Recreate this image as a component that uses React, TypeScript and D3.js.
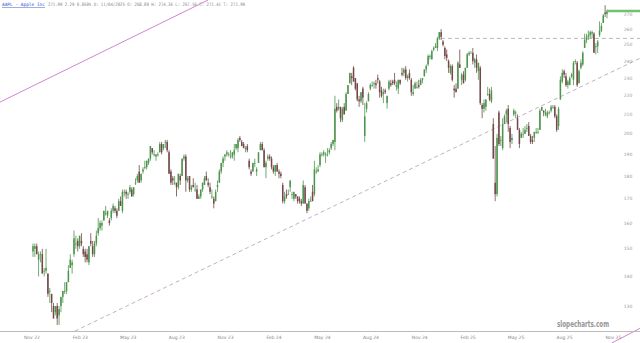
import React from "react";
import * as d3 from "d3";

// ---------- data ----------
const startDate = new Date(2022, 10, 18);
const endDate = new Date(2025, 10, 4);

// half-week OHLC bars
const ohlc: [number, number, number, number][] = [
  [149,152,147,151],[150,152,147,151],[151,152,148,148],[146,149,140,148],[148,149,145,148],
  [148,150,141,141],[142,143,140,142],[142,150,141,143],[141,141,133,134],[135,136,131,135],
  [134,134,128,131],[130,131,126,126],[128,130,127,130],
  [130,131,124,126],[127,130,124,129],[130,133,128,133],[133,135,131,135],[135,138,134,135],
  [135,138,134,138],[138,144,138,142],[143,148,143,146],[144,146,141,145],[148,157,147,154],
  [152,155,150,152],[153,154,149,151],[151,155,150,155],[153,156,151,152],[150,151,147,148],
  [149,150,145,147],[148,150,145,146],[145,151,144,151],[153,156,151,152],[151,153,147,148],
  [148,153,147,152],[152,157,151,155],[156,162,155,158],[158,161,157,160],[159,161,157,160],
  [161,165,161,165],[164,167,163,164],[163,165,162,165],[161,162,159,160],[162,166,161,165],
  [165,168,164,167],[166,167,164,165],[165,166,162,163],[165,170,165,169],[169,171,167,167],
  [165,174,164,173],[173,174,171,173],[173,174,170,172],[172,173,170,172],[173,176,172,175],
  [174,175,171,171],[172,175,171,175],[177,179,176,177],[178,181,177,180],[182,185,177,177],
  [178,181,177,181],[182,184,181,183],[184,187,183,184],[184,187,183,187],[186,188,185,188],
  [188,194,187,194],[193,193,190,191],[190,192,189,190],[189,190,187,190],[190,191,189,190],
  [191,196,191,195],[195,196,190,191],[193,195,192,195],[196,197,193,196],[196,197,191,192],
  [191,192,181,181],[182,183,176,177],[179,180,176,178],[177,180,176,177],[177,177,171,175],
  [175,181,174,181],[180,181,176,178],[180,188,180,188],[188,190,187,189],[189,190,173,178],
  [178,180,177,179],[180,180,173,174],[174,176,173,175],[176,179,175,175],[174,177,173,174],
  [174,176,170,170],[170,172,170,171],[171,174,170,174],[174,177,173,177],[176,180,176,179],
  [180,182,178,178],[177,179,175,176],[175,177,172,173],[171,174,170,171],[170,171,166,168],
  [169,174,169,173],[175,178,173,176],[177,183,177,182],[182,186,181,186],[186,189,184,188],
  [189,190,187,190],[190,192,189,191],[190,191,189,190],[189,192,188,189],[189,191,188,191],
  [190,195,187,192],[193,195,192,195],[193,198,191,197],[198,199,196,197],[196,197,194,194],
  [195,196,193,193],[193,194,191,193],[194,195,191,192],
  [187,188,183,184],[182,183,180,181],[182,186,182,186],[186,188,184,186],[182,184,180,183],
  [186,191,186,191],[192,196,192,195],[195,196,192,192],[192,193,184,184],[184,187,179,186],
  [188,190,187,189],[189,190,187,188],[188,189,183,184],[184,185,181,182],[182,185,180,185],
  [185,186,182,182],[182,183,179,181],[181,182,179,180],[176,177,168,169],[169,173,168,171],
  [172,174,170,171],[172,174,172,172],[175,178,173,178],[172,173,170,172],[170,173,169,173],
  [172,172,170,171],[171,171,168,169],[170,171,168,169],[169,170,167,168],[168,178,168,176],
  [175,176,168,168],[168,168,164,165],[166,170,165,169],[169,171,169,169],[173,176,169,169],
  [172,187,171,183],[182,184,181,182],[182,185,182,183],[185,191,184,190],[190,191,189,190],
  [190,192,189,191],[190,191,186,190],[190,193,189,190],[191,193,190,192],[193,196,192,195],
  [195,197,194,197],[196,220,192,213],[214,216,211,212],[213,218,212,214],[214,214,206,208],
  [207,214,206,213],[214,216,210,210],[212,222,212,221],[221,226,221,226],[227,233,227,233],
  [231,233,226,230],[236,237,228,228],[230,230,223,224],[227,227,217,218],[218,220,214,217],
  [217,222,216,222],[224,225,215,219],[199,216,196,209],[213,217,211,216],[217,222,217,221],
  [224,227,223,226],[226,228,225,226],[227,228,224,227],[227,229,224,226],[230,232,227,229],
  [228,229,219,222],[223,225,219,220],[221,224,216,222],[223,224,221,222],[216,220,213,220],
  [224,229,223,228],[227,229,225,226],[228,229,226,227],[229,233,226,227],[225,228,223,226],
  [224,229,221,229],[229,229,226,227],[233,236,231,232],[233,236,231,235],[235,237,229,230],
  [230,232,228,231],[233,235,229,230],[229,230,220,222],[221,226,220,222],[224,228,224,227],
  [225,228,224,225],[226,229,224,225],[226,230,226,229],[229,230,227,230],[231,235,231,235],
  [235,238,233,237],[238,244,237,243],[243,244,241,243],[241,247,241,246],[247,249,246,248],
  [248,251,248,249],[248,255,246,254],[254,258,253,258],[258,260,253,255],[252,253,249,250],
  [248,249,241,243],[244,247,240,242],[240,241,233,236],[233,238,232,237],[237,238,228,229],
  [224,226,219,223],[224,227,222,222],[224,240,224,239],[238,247,236,236],[229,233,226,232],
  [232,234,227,227],[229,236,228,236],[236,245,236,244],[244,246,243,245],[245,246,245,245],
  [245,248,238,240],[239,242,236,241],[241,244,233,236],[234,237,229,239],[236,237,215,216],
  [215,216,208,213],[213,218,211,216],[214,218,212,218],[221,225,220,221],[221,224,217,218],
  [217,225,216,223],[205,208,188,188],[177,194,169,172],[172,200,171,198],[211,212,194,195],
  [197,199,194,197],[193,208,192,205],[205,210,205,209],[210,213,206,212],[213,215,201,205],
  [203,204,193,196],[197,200,195,198],[210,213,209,212],[211,212,208,211],[208,210,202,202],
  [202,203,193,195],[198,201,199,200],[200,203,198,200],[200,204,200,202],[203,205,201,203],
  [204,206,199,199],[199,200,195,196],[197,199,195,196],[198,201,196,201],[201,203,200,201],
  [201,203,200,201],[202,213,202,212],[212,214,212,214],[212,212,209,211],[210,213,209,211],
  [209,212,208,211],[211,212,210,211],[212,215,211,214],[214,215,213,214],[214,215,208,209],
  [209,210,201,202],[204,214,202,213],[218,231,218,229],[228,235,227,233],[234,235,230,232],
  [231,233,225,226],[226,229,224,228],[226,231,226,230],[231,233,230,232],[229,240,226,239],
  [240,241,238,240],[239,240,225,226],[227,235,227,234],[236,241,235,239],[238,246,237,245],
  [248,257,248,253],[253,257,251,255],[255,259,253,256],[256,259,254,258],[257,259,254,258],
  [257,258,245,245],[249,251,244,249],[249,253,245,252],[256,265,255,259],[259,264,258,262],
  [264,270,264,269],[271,276,268,270],[270,273,267,272],
];

const yTicks = [130, 140, 150, 160, 170, 180, 190, 200, 210, 220, 230, 240, 250, 260, 270];
const xTickDates = ["2022-11-01","2023-02-01","2023-05-01","2023-08-01","2023-11-01","2024-02-01",
  "2024-05-01","2024-08-01","2024-11-01","2025-02-01","2025-05-01","2025-08-01","2025-11-01"];
const xTickLabels = ["Nov 22","Feb 23","May 23","Aug 23","Nov 23","Feb 24","May 24","Aug 24",
  "Nov 24","Feb 25","May 25","Aug 25","Nov 25"];

const channelUpper: [string, number][] = [["2022-09-17", 216.6], ["2023-10-14", 279.6]];
const channelLower: [string, number][] = [["2025-11-13", 118.5], ["2026-01-06", 123.0]];
const supportLine: [string, number][] = [["2023-02-05", 122.1], ["2026-01-06", 241.8]];
const resistanceStart = "2024-12-26";
const resistanceEnd = "2026-01-06";
const resistancePrice = 254;
const lastPrice = 272;

const headerLink = "AAPL - Apple Inc";
const headerText = "271.99 2.29 0.850% D: 11/04/2025 O: 268.89 H: 274.36 L: 267.56 C: 271.41 T: 271.99";

// ---------- chart ----------
export default function App() {
  const W = 640, H = 343;
  const x = d3.scaleTime().domain([startDate, endDate]).range([33, 607]);
  const xi = d3.scaleLinear().domain([0, ohlc.length - 1]).range([33, 607]);
  const y = d3.scaleLog().domain([130, 270]).range([306, 14]);
  const pd = (s: string) => new Date(s + "T00:00:00");
  const line = d3.line<[string, number]>().x(d => x(pd(d[0]))).y(d => y(d[1]));

  const upColor = "#4d944d";
  const downColor = "#744848";
  const bw = 1.5;

  return (
    <div style={{ position: "absolute", left: 0, top: 0 }}>
      <svg width={W} height={H} style={{ display: "block", background: "#fff" }}>
        {/* header */}
        <text x={2} y={6} fontFamily="DejaVu Sans Mono" fontSize={4.6} fill="#2a4fd0"
          textDecoration="underline" textLength={43} lengthAdjust="spacingAndGlyphs">{headerLink}</text>
        <text x={48} y={6} fontFamily="DejaVu Sans Mono" fontSize={4.6} fill="#888"
          textLength={197} lengthAdjust="spacingAndGlyphs">{headerText}</text>

        {/* trend lines */}
        <path d={line(channelUpper) || ""} stroke="#cc77cc" strokeWidth={0.9} fill="none" />
        <path d={line(channelLower) || ""} stroke="#cc77cc" strokeWidth={0.9} fill="none" />
        <path d={line(supportLine) || ""} stroke="#c0a4c4" strokeWidth={0.9} strokeDasharray="4,3" fill="none" />
        <line x1={x(pd(resistanceStart))} x2={x(pd(resistanceEnd))} y1={y(resistancePrice)} y2={y(resistancePrice)}
          stroke="#a9b5a9" strokeWidth={0.9} strokeDasharray="4,3" />

        {/* candles */}
        {ohlc.map((d, i) => {
          const [o, h, l, c] = d;
          const up = c >= o;
          const col = up ? upColor : downColor;
          const cx = xi(i);
          const top = y(Math.max(o, c));
          const bot = y(Math.min(o, c));
          return (
            <g key={i}>
              <line x1={cx} x2={cx} y1={y(h)} y2={y(l)} stroke={col} strokeWidth={0.8} />
              <rect x={cx - bw / 2} y={top} width={bw} height={Math.max(0.8, bot - top)} fill={col} />
            </g>
          );
        })}

        {/* last price line */}
        <line x1={xi(ohlc.length - 1)} x2={W} y1={y(lastPrice)} y2={y(lastPrice)} stroke="#72c072" strokeWidth={2.5} />

        {/* y axis labels */}
        {yTicks.map(t => (
          <text key={t} x={628} y={y(t) + 1.6} fontFamily="DejaVu Sans" fontSize={4.5} fill="#999" textAnchor="middle">{t}</text>
        ))}

        {/* x axis */}
        <line x1={0} x2={W} y1={331.5} y2={331.5} stroke="#bbb" strokeWidth={1} />
        {xTickDates.map((s, i) => (
          <text key={s} x={x(pd(s))} y={339} fontFamily="DejaVu Sans" fontSize={4.5} fill="#888">{xTickLabels[i]}</text>
        ))}

        {/* watermark */}
        <text x={557} y={327} fontFamily="DejaVu Sans" fontSize={8} fontWeight="bold" fill="#959595"
          textLength={52} lengthAdjust="spacingAndGlyphs">slopecharts.com</text>
      </svg>
    </div>
  );
}
